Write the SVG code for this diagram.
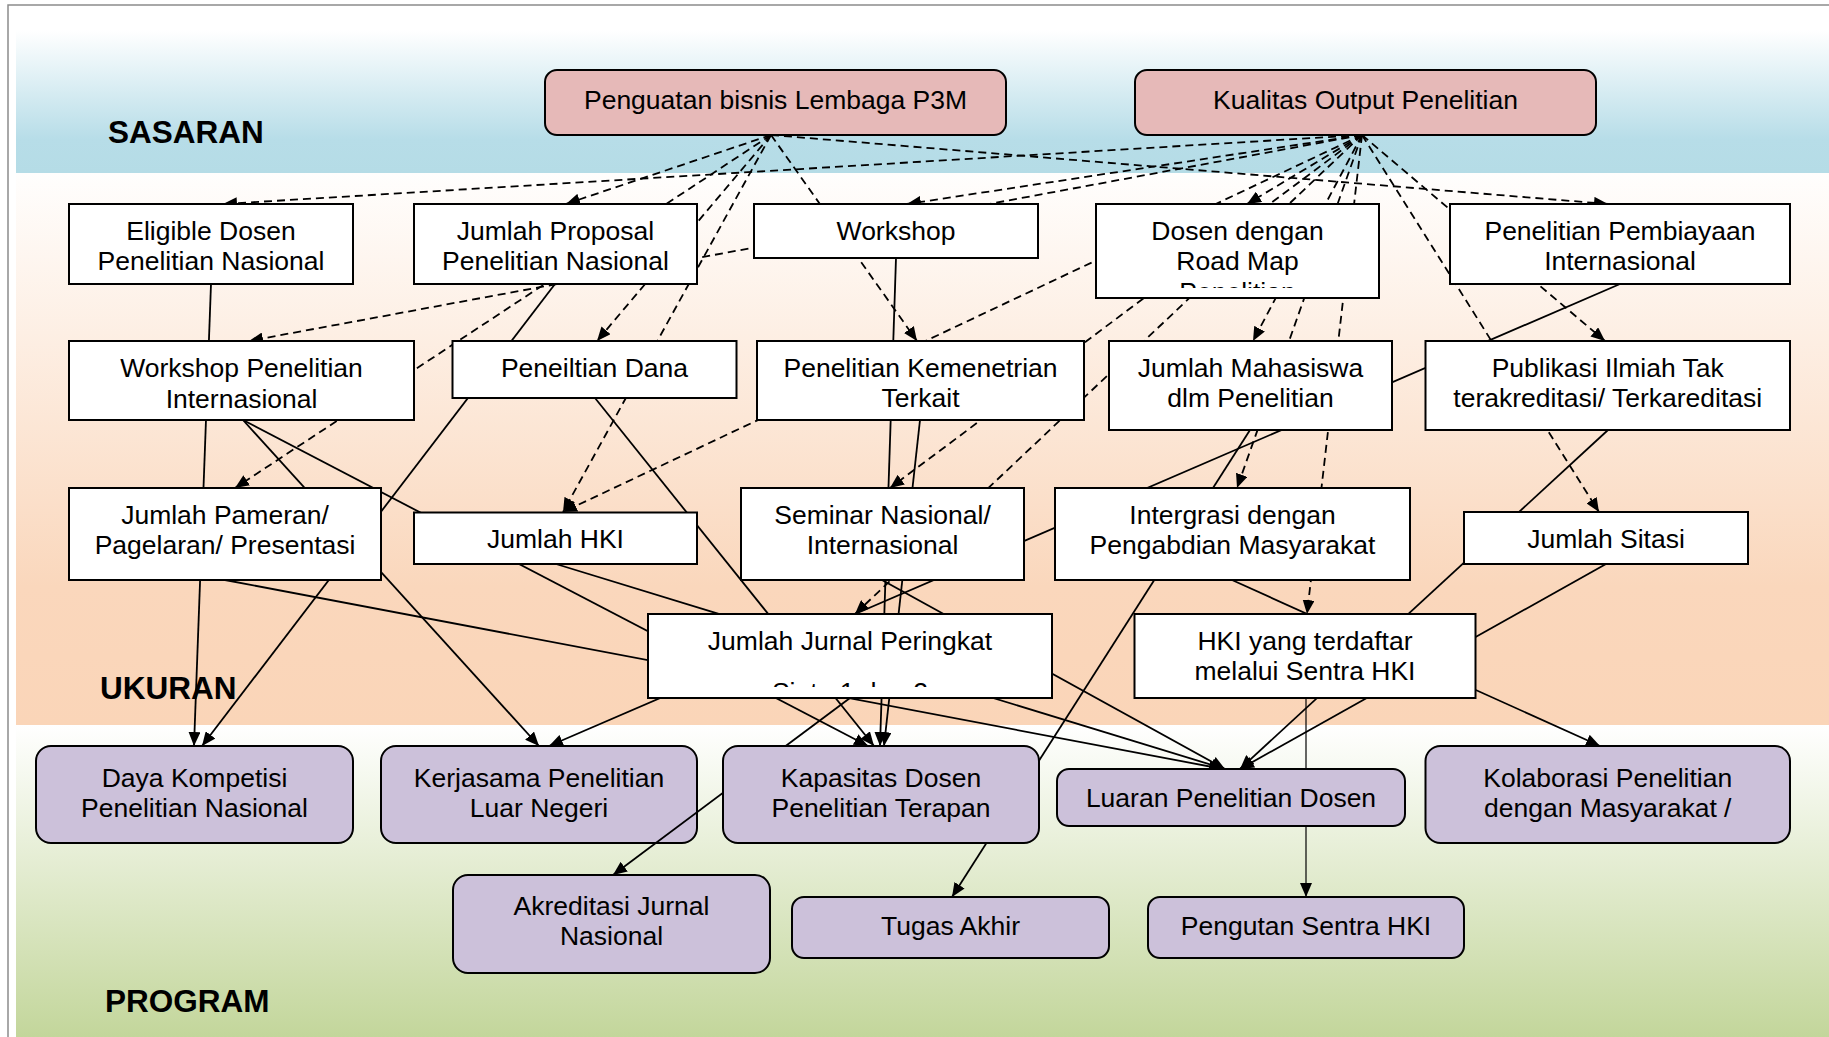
<svg xmlns="http://www.w3.org/2000/svg" width="1829" height="1037" viewBox="0 0 1829 1037">
  <defs>
    <linearGradient id="gSasaran" x1="0" y1="5" x2="0" y2="173" gradientUnits="userSpaceOnUse">
      <stop offset="0" stop-color="#ffffff"/>
      <stop offset="0.15" stop-color="#ffffff"/>
      <stop offset="0.8" stop-color="#b7dde8"/>
      <stop offset="1" stop-color="#b5dce6"/>
    </linearGradient>
    <linearGradient id="gUkuran" x1="0" y1="173" x2="0" y2="725" gradientUnits="userSpaceOnUse">
      <stop offset="0" stop-color="#fffefd"/>
      <stop offset="0.75" stop-color="#fad7bc"/>
      <stop offset="1" stop-color="#fad5b8"/>
    </linearGradient>
    <linearGradient id="gProgram" x1="0" y1="725" x2="0" y2="1037" gradientUnits="userSpaceOnUse">
      <stop offset="0" stop-color="#ffffff"/>
      <stop offset="1" stop-color="#c3d69b"/>
    </linearGradient>
    <marker id="ah" viewBox="0 0 14 12" refX="14" refY="6" markerWidth="14" markerHeight="12" markerUnits="userSpaceOnUse" orient="auto">
      <path d="M0,0 L14,6 L0,12 z" fill="#000"/>
    </marker>
    <clipPath id="clipDosen"><rect x="1096" y="204" width="283" height="84"/></clipPath>
    <clipPath id="clipJurnal"><rect x="648" y="614" width="404" height="73"/></clipPath>
    <style>
      .band-label { font-family: "Liberation Sans", Arial, sans-serif; font-weight: bold; font-size: 31.5px; fill: #000; }
      .t { font-family: "Liberation Sans", Arial, sans-serif; font-size: 26.5px; fill: #000; text-anchor: middle; }
      .box { fill: #ffffff; stroke: #000; stroke-width: 2; }
      .goal { fill: #e6b9b8; stroke: #000; stroke-width: 2; }
      .prog { fill: #ccc1da; stroke: #000; stroke-width: 2; }
      .c { fill: none; stroke: #000; stroke-width: 1.8; marker-end: url(#ah); }
      .d { stroke-dasharray: 8 5; }
      .thin { stroke-width: 1.2; }
    </style>
  </defs>

  <!-- background bands -->
  <rect x="0" y="0" width="1829" height="1037" fill="#ffffff"/>
  <rect x="16" y="5" width="1813" height="168" fill="url(#gSasaran)"/>
  <rect x="16" y="173" width="1813" height="552" fill="url(#gUkuran)"/>
  <rect x="16" y="725" width="1813" height="312" fill="url(#gProgram)"/>
  <path d="M8,1037 V5 H1829" fill="none" stroke="#8c8c8c" stroke-width="1.5"/>

  <text class="band-label" x="108" y="143">SASARAN</text>
  <text class="band-label" x="100" y="699">UKURAN</text>
  <text class="band-label" x="105" y="1012">PROGRAM</text>

  <!-- this programme box sits beneath the connectors -->
  <g id="kerjasama-luar-negeri">
    <rect class="prog" x="381" y="746" width="316" height="97" rx="15"/>
    <text class="t" x="539" y="787">Kerjasama Penelitian</text>
    <text class="t" x="539" y="817">Luar Negeri</text>
  </g>

  <!-- connectors -->
  <g id="connectors">
    <!-- dashed: from Kualitas Output Penelitian -->
    <line class="c d" x1="1362" y1="135" x2="223" y2="204"/>
    <line class="c d" x1="1362" y1="135" x2="249" y2="341"/>
    <line class="c d" x1="1362" y1="135" x2="907" y2="204"/>
    <line class="c d" x1="1362" y1="135" x2="563" y2="512"/>
    <line class="c d" x1="1362" y1="135" x2="890" y2="488"/>
    <line class="c d" x1="1362" y1="135" x2="855" y2="614"/>
    <line class="c d" x1="1362" y1="135" x2="1253" y2="341"/>
    <line class="c d" x1="1362" y1="135" x2="1237" y2="488"/>
    <line class="c d" x1="1362" y1="135" x2="1307" y2="614"/>
    <line class="c d" x1="1362" y1="135" x2="1605" y2="341"/>
    <line class="c d" x1="1362" y1="135" x2="1599" y2="512"/>
    <line class="c d" x1="1362" y1="135" x2="1247" y2="204"/>
    <!-- dashed: from Penguatan bisnis Lembaga P3M -->
    <line class="c d" x1="771" y1="135" x2="566" y2="204"/>
    <line class="c d" x1="771" y1="135" x2="235" y2="488"/>
    <line class="c d" x1="771" y1="135" x2="597" y2="341"/>
    <line class="c d" x1="771" y1="135" x2="563" y2="512"/>
    <line class="c d" x1="771" y1="135" x2="917" y2="341"/>
    <line class="c d" x1="771" y1="135" x2="1608" y2="204"/>
    <!-- solid -->
    <line class="c" x1="211" y1="284" x2="194" y2="746"/>
    <line class="c" x1="555" y1="284" x2="202" y2="746"/>
    <line class="c" x1="896" y1="258" x2="880" y2="746"/>
    <line class="c" x1="920" y1="420" x2="884" y2="746"/>
    <line class="c" x1="595" y1="398" x2="874" y2="746"/>
    <line class="c" x1="243" y1="420" x2="868" y2="746"/>
    <line class="c" x1="243" y1="420" x2="539" y2="746"/>
    <line class="c" x1="1620" y1="284" x2="549" y2="746"/>
    <line class="c" x1="850" y1="698" x2="613" y2="875"/>
    <line class="c" x1="1250" y1="430" x2="952" y2="897"/>
    <line class="c" x1="225" y1="580" x2="1223" y2="769"/>
    <line class="c" x1="556" y1="564" x2="1225" y2="769"/>
    <line class="c" x1="882" y1="580" x2="1225" y2="769"/>
    <line class="c" x1="1608" y1="430" x2="1240" y2="769"/>
    <line class="c" x1="1606" y1="564" x2="1240" y2="769"/>
    <line class="c" x1="1232" y1="580" x2="1600" y2="746"/>
    <line class="c thin" x1="1306" y1="698" x2="1306" y2="897"/>
  </g>

  <!-- goals -->
  <g id="penguatan-bisnis">
    <rect class="goal" x="545" y="70" width="461" height="65" rx="12"/>
    <text class="t" x="775.5" y="108.5">Penguatan bisnis Lembaga P3M</text>
  </g>
  <g id="kualitas-output">
    <rect class="goal" x="1135" y="70" width="461" height="65" rx="12"/>
    <text class="t" x="1365.5" y="108.5">Kualitas Output Penelitian</text>
  </g>

  <!-- measures, row 1 -->
  <g id="eligible-dosen">
    <rect class="box" x="69" y="204" width="284" height="80"/>
    <text class="t" x="211" y="239.5">Eligible Dosen</text>
    <text class="t" x="211" y="270">Penelitian Nasional</text>
  </g>
  <g id="jumlah-proposal">
    <rect class="box" x="414" y="204" width="283" height="80"/>
    <text class="t" x="555.5" y="239.5">Jumlah Proposal</text>
    <text class="t" x="555.5" y="270">Penelitian Nasional</text>
  </g>
  <g id="workshop">
    <rect class="box" x="754" y="204" width="284" height="54"/>
    <text class="t" x="896" y="239.5">Workshop</text>
  </g>
  <g id="dosen-road-map">
    <rect class="box" x="1096" y="204" width="283" height="94"/>
    <g clip-path="url(#clipDosen)">
      <text class="t" x="1237.5" y="239.5">Dosen dengan</text>
      <text class="t" x="1237.5" y="270">Road Map</text>
      <text class="t" x="1237.5" y="300.5">Penelitian</text>
    </g>
  </g>
  <g id="penelitian-pembiayaan">
    <rect class="box" x="1450" y="204" width="340" height="80"/>
    <text class="t" x="1620" y="239.5">Penelitian Pembiayaan</text>
    <text class="t" x="1620" y="270">Internasional</text>
  </g>

  <!-- measures, row 2 -->
  <g id="workshop-penelitian-internasional">
    <rect class="box" x="69" y="341" width="345" height="79"/>
    <text class="t" x="241.5" y="376.5">Workshop Penelitian</text>
    <text class="t" x="241.5" y="407.5">Internasional</text>
  </g>
  <g id="peneiltian-dana">
    <rect class="box" x="452.5" y="341" width="284" height="57"/>
    <text class="t" x="594.5" y="376.5">Peneiltian Dana</text>
  </g>
  <g id="penelitian-kemenetrian">
    <rect class="box" x="757" y="341" width="327" height="79"/>
    <text class="t" x="920.5" y="376.5">Penelitian Kemenetrian</text>
    <text class="t" x="920.5" y="407">Terkait</text>
  </g>
  <g id="jumlah-mahasiswa">
    <rect class="box" x="1109" y="341" width="283" height="89"/>
    <text class="t" x="1250.5" y="376.5">Jumlah Mahasiswa</text>
    <text class="t" x="1250.5" y="407">dlm Penelitian</text>
  </g>
  <g id="publikasi-ilmiah">
    <rect class="box" x="1425.5" y="341" width="364.5" height="89"/>
    <text class="t" x="1607.75" y="376.5">Publikasi Ilmiah Tak</text>
    <text class="t" x="1607.75" y="407">terakreditasi/ Terkareditasi</text>
  </g>

  <!-- measures, row 3 -->
  <g id="jumlah-pameran">
    <rect class="box" x="69" y="488" width="312" height="92"/>
    <text class="t" x="225" y="523.5">Jumlah Pameran/</text>
    <text class="t" x="225" y="554">Pagelaran/ Presentasi</text>
  </g>
  <g id="jumlah-hki">
    <rect class="box" x="414" y="512.5" width="283" height="51.5"/>
    <text class="t" x="555.5" y="548">Jumlah HKI</text>
  </g>
  <g id="seminar">
    <rect class="box" x="741" y="488" width="283" height="92"/>
    <text class="t" x="882.5" y="523.5">Seminar Nasional/</text>
    <text class="t" x="882.5" y="554">Internasional</text>
  </g>
  <g id="intergrasi-pengabdian">
    <rect class="box" x="1055" y="488" width="355" height="92"/>
    <text class="t" x="1232.5" y="523.5">Intergrasi dengan</text>
    <text class="t" x="1232.5" y="554">Pengabdian Masyarakat</text>
  </g>
  <g id="jumlah-sitasi">
    <rect class="box" x="1464" y="512" width="284" height="52"/>
    <text class="t" x="1606" y="548">Jumlah Sitasi</text>
  </g>

  <!-- measures, row 4 -->
  <g id="jumlah-jurnal">
    <rect class="box" x="648" y="614" width="404" height="84"/>
    <g clip-path="url(#clipJurnal)">
      <text class="t" x="850" y="650">Jumlah Jurnal Peringkat</text>
      <text class="t" x="850" y="701">Sinta 1 dan 2</text>
    </g>
  </g>
  <g id="hki-terdaftar">
    <rect class="box" x="1134.5" y="614" width="341" height="84"/>
    <text class="t" x="1305" y="649.5">HKI yang terdaftar</text>
    <text class="t" x="1305" y="680">melalui Sentra HKI</text>
  </g>

  <!-- programmes -->
  <g id="daya-kompetisi">
    <rect class="prog" x="36" y="746" width="317" height="97" rx="15"/>
    <text class="t" x="194.5" y="787">Daya Kompetisi</text>
    <text class="t" x="194.5" y="817">Penelitian Nasional</text>
  </g>
  <g id="kapasitas-dosen">
    <rect class="prog" x="723" y="746" width="316" height="97" rx="15"/>
    <text class="t" x="881" y="787">Kapasitas Dosen</text>
    <text class="t" x="881" y="817">Penelitian Terapan</text>
  </g>
  <g id="luaran-penelitian">
    <rect class="prog" x="1057" y="769" width="348" height="57" rx="12"/>
    <text class="t" x="1231" y="807">Luaran Penelitian Dosen</text>
  </g>
  <g id="kolaborasi-penelitian">
    <rect class="prog" x="1425.5" y="746" width="364.5" height="97" rx="15"/>
    <text class="t" x="1607.75" y="787">Kolaborasi Penelitian</text>
    <text class="t" x="1607.75" y="817">dengan Masyarakat /</text>
  </g>
  <g id="akreditasi-jurnal">
    <rect class="prog" x="453" y="875" width="317" height="98" rx="15"/>
    <text class="t" x="611.5" y="915">Akreditasi Jurnal</text>
    <text class="t" x="611.5" y="945">Nasional</text>
  </g>
  <g id="tugas-akhir">
    <rect class="prog" x="792" y="897" width="317" height="61" rx="12"/>
    <text class="t" x="950.5" y="935">Tugas Akhir</text>
  </g>
  <g id="pengutan-sentra-hki">
    <rect class="prog" x="1148" y="897" width="316" height="61" rx="12"/>
    <text class="t" x="1306" y="935">Pengutan Sentra HKI</text>
  </g>
</svg>
